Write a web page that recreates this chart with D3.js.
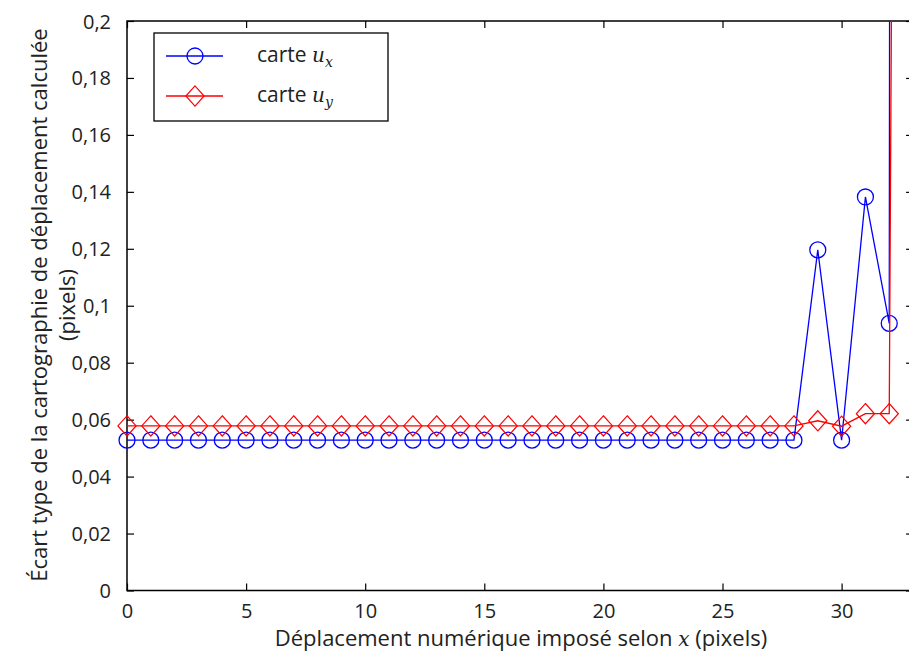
<!DOCTYPE html>
<html><head><meta charset="utf-8">
<script src="https://cdn.jsdelivr.net/npm/d3@7"></script>
<style>
body{margin:0;background:#fff;}
text{font-family:"Open Sans","Noto Sans",sans-serif;fill:#222;}
</style></head><body>
<svg id="c" width="909" height="659"></svg>
<script>
const xValues = [0,1,2,3,4,5,6,7,8,9,10,11,12,13,14,15,16,17,18,19,20,21,22,23,24,25,26,27,28,29,30,31,32,33];
const uxValues = [0.0528,0.0528,0.0528,0.0528,0.0528,0.0528,0.0528,0.0528,0.0528,0.0528,0.0528,0.0528,0.0528,0.0528,0.0528,0.0528,0.0528,0.0528,0.0528,0.0528,0.0528,0.0528,0.0528,0.0528,0.0528,0.0528,0.0528,0.0528,0.0528,0.1196,0.0528,0.1382,0.0938,8.0];
const uyValues = [0.0578,0.0578,0.0578,0.0578,0.0578,0.0578,0.0578,0.0578,0.0578,0.0578,0.0578,0.0578,0.0578,0.0578,0.0578,0.0578,0.0578,0.0578,0.0578,0.0578,0.0578,0.0578,0.0578,0.0578,0.0578,0.0578,0.0578,0.0578,0.0578,0.0596,0.0577,0.0621,0.0621,1.6];
const xTicks = [0,5,10,15,20,25,30];
const yTicks = [0,0.02,0.04,0.06,0.08,0.1,0.12,0.14,0.16,0.18,0.2];
const xDomain = [0,33];
const yDomain = [0,0.2];

const L=127, T=21, B=590.5, R=127+33*23.82;
const svg=d3.select("#c");
const x=d3.scaleLinear().domain(xDomain).range([L,R]);
const y=d3.scaleLinear().domain(yDomain).range([B,T]);
const fmt=d=>String(+d.toFixed(2)).replace(".",",");

svg.append("defs").append("clipPath").attr("id","clip").append("rect")
  .attr("x",0).attr("y",T).attr("width",909).attr("height",659-T);

svg.append("rect").attr("x",L).attr("y",T).attr("width",R-L).attr("height",B-T)
  .attr("fill","none").attr("stroke","#000").attr("stroke-width",1.5);

const tl=7;
const xAxisB=d3.axisBottom(x).tickValues(xTicks).tickSize(-tl).tickPadding(tl+6).tickFormat(d=>d);
const gxb=svg.append("g").attr("transform",`translate(0,${B})`).call(xAxisB);
const xAxisT=d3.axisTop(x).tickValues(xTicks).tickSize(-tl).tickFormat("");
const gxt=svg.append("g").attr("transform",`translate(0,${T})`).call(xAxisT);
const yAxisL=d3.axisLeft(y).tickValues(yTicks).tickSize(-tl).tickPadding(tl+9).tickFormat(fmt);
const gyl=svg.append("g").attr("transform",`translate(${L},0)`).call(yAxisL);
const yAxisR=d3.axisRight(y).tickValues(yTicks).tickSize(-tl).tickFormat("");
const gyr=svg.append("g").attr("transform",`translate(${R},0)`).call(yAxisR);
[gxb,gxt,gyl,gyr].forEach(g=>{
  g.select(".domain").remove();
  g.selectAll(".tick line").attr("stroke","#000").attr("stroke-width",1.2);
  g.selectAll("text").attr("font-size",20).attr("fill","#222")
   .attr("font-family",'"Open Sans","Noto Sans",sans-serif');
});
gyl.selectAll("text").attr("dy","0.35em");

const plot=svg.append("g").attr("clip-path","url(#clip)");
function series(vals,color,shape){
  const pts=xValues.map((d,i)=>[d,vals[i]]);
  plot.append("path").datum(pts).attr("fill","none").attr("stroke",color).attr("stroke-width",1.3)
    .attr("d",d3.line().x(d=>x(d[0])).y(d=>y(d[1])));
  const sym=d3.symbol().type(shape==="circle"?d3.symbolCircle:d3.symbolDiamond2)
    .size(shape==="circle"?200:260);
  plot.selectAll(null).data(pts).join("path")
    .attr("transform",d=>`translate(${x(d[0])},${y(d[1])})`+(shape==="circle"?"":" scale(0.9,1.0)"))
    .attr("d",sym).attr("fill","none").attr("stroke",color).attr("stroke-width",1.3);
}
series(uxValues,"#0000ff","circle");
series(uyValues,"#ff0000","diamond");

const lg=svg.append("g");
lg.append("rect").attr("x",154).attr("y",33).attr("width",234).attr("height",88)
  .attr("fill","#fff").attr("stroke","#000").attr("stroke-width",1.3);
const items=[{c:"#0000ff",s:"circle",sub:"x",yy:56},{c:"#ff0000",s:"diamond",sub:"y",yy:96}];
items.forEach(it=>{
  lg.append("line").attr("x1",166).attr("x2",223).attr("y1",it.yy).attr("y2",it.yy)
    .attr("stroke",it.c).attr("stroke-width",1.3);
  const sym=d3.symbol().type(it.s==="circle"?d3.symbolCircle:d3.symbolDiamond2).size(it.s==="circle"?200:260);
  lg.append("path").attr("d",sym).attr("transform",`translate(195,${it.yy})`+(it.s==="circle"?"":" scale(0.9,1)"))
    .attr("fill","none").attr("stroke",it.c).attr("stroke-width",1.3);
  const t=lg.append("text").attr("x",257).attr("y",it.yy+6).attr("font-size",21);
  t.append("tspan").text("carte ");
  t.append("tspan").attr("font-family","'DejaVu Serif',serif").attr("font-style","italic").attr("font-size",20).text("u");
  t.append("tspan").attr("font-family","'DejaVu Serif',serif").attr("font-style","italic").attr("font-size",14).attr("dy",5).text(it.sub);
});

const xl=svg.append("text").attr("x",521).attr("y",646).attr("text-anchor","middle").attr("font-size",22);
xl.append("tspan").text("Déplacement numérique imposé selon ");
xl.append("tspan").attr("font-family","'DejaVu Serif',serif").attr("font-style","italic").attr("font-size",20).text("x");
xl.append("tspan").text(" (pixels)");

const yl=svg.append("text").attr("transform","rotate(-90)").attr("text-anchor","middle").attr("font-size",22);
yl.append("tspan").attr("x",-305).attr("y",47).text("Écart type de la cartographie de déplacement calculée");
yl.append("tspan").attr("x",-305).attr("y",75).text("(pixels)");
</script>
</body></html>
